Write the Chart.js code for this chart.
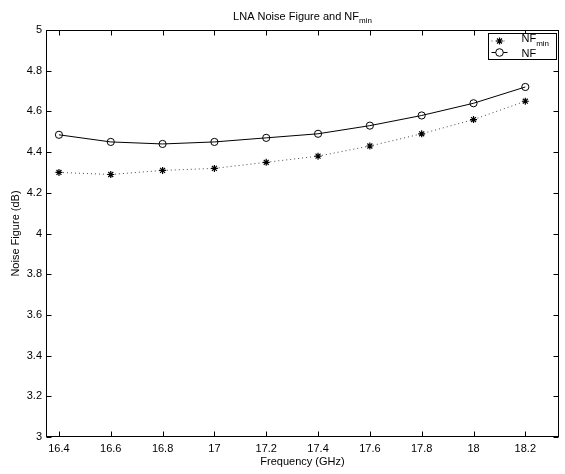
<!DOCTYPE html>
<html>
<head>
<meta charset="utf-8">
<script src="https://cdn.jsdelivr.net/npm/chart.js@4/dist/chart.umd.min.js"></script>
<style>
  body { margin: 0; background: #fff; }
  #wrap { width: 565px; height: 474px; position: relative; }
</style>
</head>
<body>
<div id="wrap"><canvas id="nfChart"></canvas></div>
<script>
// frequency points (GHz)
const freq = [16.4, 16.6, 16.8, 17.0, 17.2, 17.4, 17.6, 17.8, 18.0, 18.2];
// NF_min (dB)
const nfMin = [4.30, 4.29, 4.31, 4.32, 4.35, 4.38, 4.43, 4.49, 4.56, 4.65];
// NF (dB)
const nf = [4.485, 4.45, 4.44, 4.45, 4.47, 4.49, 4.53, 4.58, 4.64, 4.72];

const xTicks = [16.4, 16.6, 16.8, 17, 17.2, 17.4, 17.6, 17.8, 18, 18.2];
const yTicks = [3, 3.2, 3.4, 3.6, 3.8, 4, 4.2, 4.4, 4.6, 4.8, 5];

const FONT = 'Liberation Sans, Arial, Helvetica, sans-serif';

function drawAsterisk(ctx, x, y, r) {
    ctx.beginPath();
    for (let a = 0; a < 4; a++) {
        const ang = a * Math.PI / 4;
        ctx.moveTo(x - r * Math.cos(ang), y - r * Math.sin(ang));
        ctx.lineTo(x + r * Math.cos(ang), y + r * Math.sin(ang));
    }
    ctx.stroke();
}

// matlab-ish frame, inward ticks, title with subscript, legend
const frame = {
    id: 'frame',
    afterDraw(chart) {
        const ctx = chart.ctx;
        const a = chart.chartArea;
        const xs = chart.scales.x, ys = chart.scales.y;
        const L = Math.round(a.left) + 0.5, R = Math.round(a.right) - 0.5;
        const T = Math.round(a.top) + 0.5, B = Math.round(a.bottom) - 0.5;
        ctx.save();
        ctx.strokeStyle = '#000';
        ctx.lineWidth = 1;
        ctx.setLineDash([]);
        ctx.strokeRect(L, T, R - L, B - T);
        ctx.beginPath();
        xTicks.forEach(v => {
            const px = Math.round(xs.getPixelForValue(v)) + 0.5;
            ctx.moveTo(px, B); ctx.lineTo(px, B - 5);
            ctx.moveTo(px, T); ctx.lineTo(px, T + 5);
        });
        yTicks.forEach(v => {
            const py = Math.round(ys.getPixelForValue(v)) + 0.5;
            ctx.moveTo(L, py); ctx.lineTo(L + 5, py);
            ctx.moveTo(R, py); ctx.lineTo(R - 5, py);
        });
        ctx.stroke();

        // title
        ctx.fillStyle = '#000';
        ctx.textBaseline = 'alphabetic';
        ctx.textAlign = 'left';
        const main = 'LNA Noise Figure and NF';
        ctx.font = '11px ' + FONT;
        const w1 = ctx.measureText(main).width;
        ctx.font = '8px ' + FONT;
        const w2 = ctx.measureText('min').width;
        const tx = (a.left + a.right) / 2 - (w1 + w2) / 2;
        ctx.font = '11px ' + FONT;
        ctx.fillText(main, tx, 20);
        ctx.font = '8px ' + FONT;
        ctx.fillText('min', tx + w1, 23);

        // legend
        const bx = Math.round(a.right) - 70.5, by = Math.round(a.top) + 3.5;
        const bw = 68, bh = 26;
        ctx.fillStyle = '#fff';
        ctx.fillRect(bx, by, bw, bh);
        ctx.strokeStyle = '#000';
        ctx.strokeRect(bx, by, bw, bh);
        const r1 = by + 7.5, r2 = by + 19;
        // NFmin row
        ctx.strokeStyle = '#444';
        ctx.setLineDash([1, 3]);
        ctx.beginPath(); ctx.moveTo(bx + 3, r1); ctx.lineTo(bx + 19, r1); ctx.stroke();
        ctx.setLineDash([]);
        ctx.strokeStyle = '#000';
        ctx.lineWidth = 1.2;
        drawAsterisk(ctx, bx + 11, r1, 3.5);
        // NF row
        ctx.lineWidth = 1;
        ctx.beginPath(); ctx.moveTo(bx + 3, r2); ctx.lineTo(bx + 19, r2); ctx.stroke();
        ctx.fillStyle = '#fff';
        ctx.beginPath(); ctx.arc(bx + 11, r2, 3.8, 0, Math.PI * 2); ctx.fill(); ctx.stroke();
        ctx.fillStyle = '#000';
        ctx.font = '11px ' + FONT;
        ctx.textBaseline = 'alphabetic';
        const nfw = ctx.measureText('NF').width;
        ctx.fillText('NF', bx + 33, r1 + 0.5);
        ctx.font = '8px ' + FONT;
        ctx.fillText('min', bx + 33 + nfw, r1 + 4.5);
        ctx.font = '11px ' + FONT;
        ctx.fillText('NF', bx + 33, r2 + 4.5);
        ctx.restore();
    }
};

const tickFmt = v => String(Math.round(v * 10) / 10);

new Chart(document.getElementById('nfChart'), {
    type: 'line',
    data: {
        datasets: [{
            label: 'NFmin',
            data: freq.map((f, i) => ({ x: f, y: nfMin[i] })),
            borderColor: '#444',
            borderWidth: 1,
            borderDash: [1, 3],
            pointStyle: 'star',
            pointRadius: 3.5,
            pointBorderColor: '#000',
            pointBackgroundColor: '#000',
            pointBorderWidth: 1.2,
            tension: 0,
            fill: false
        }, {
            label: 'NF',
            data: freq.map((f, i) => ({ x: f, y: nf[i] })),
            borderColor: '#000',
            borderWidth: 1,
            pointStyle: 'circle',
            pointRadius: 3.6,
            pointBorderColor: '#000',
            pointBackgroundColor: 'rgba(255,255,255,0)',
            pointBorderWidth: 1,
            tension: 0,
            fill: false
        }]
    },
    options: {
        responsive: true,
        maintainAspectRatio: false,
        animation: false,
        events: [],
        layout: { padding: { left: 0, top: 30, right: 6, bottom: 0 } },
        plugins: {
            legend: { display: false },
            title: { display: false },
            tooltip: { enabled: false }
        },
        scales: {
            x: {
                type: 'linear',
                min: 16.35,
                max: 18.33,
                afterBuildTicks: s => { s.ticks = xTicks.map(v => ({ value: v })); },
                afterFit: s => { s.height = 37; },
                grid: { display: false, drawTicks: false },
                border: { display: false },
                ticks: {
                    color: '#000',
                    font: { family: FONT, size: 11 },
                    padding: 5,
                    maxRotation: 0,
                    autoSkip: false,
                    callback: tickFmt
                },
                title: {
                    display: true,
                    text: 'Frequency (GHz)',
                    color: '#000',
                    font: { family: FONT, size: 11 },
                    padding: { top: 0, bottom: 5 }
                }
            },
            y: {
                type: 'linear',
                min: 3,
                max: 5,
                afterBuildTicks: s => { s.ticks = yTicks.map(v => ({ value: v })); },
                afterFit: s => { s.width = 46; },
                grid: { display: false, drawTicks: false },
                border: { display: false },
                ticks: {
                    color: '#000',
                    font: { family: FONT, size: 11 },
                    padding: 4,
                    autoSkip: false,
                    callback: tickFmt
                },
                title: {
                    display: true,
                    text: 'Noise Figure (dB)',
                    color: '#000',
                    font: { family: FONT, size: 11 },
                    padding: { top: 9, bottom: 0 }
                }
            }
        }
    },
    plugins: [frame]
});
</script>
</body>
</html>
